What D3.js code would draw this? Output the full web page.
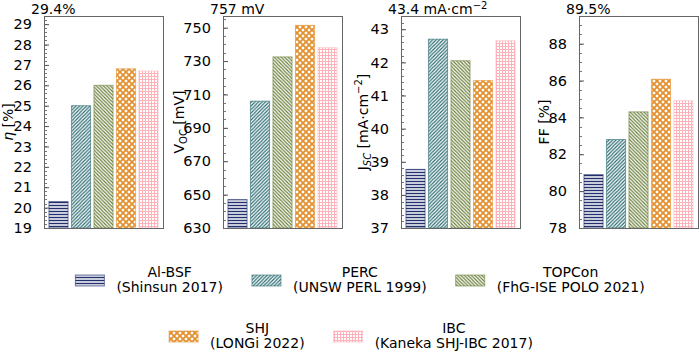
<!DOCTYPE html>
<html>
<head>
<meta charset="utf-8">
<script src="https://cdn.jsdelivr.net/npm/d3@7"></script>
<style>
body { margin: 0; background: #fff; }
text { font-family: "DejaVu Sans", sans-serif; fill: #000; }
</style>
</head>
<body>
<script>
// solar cell record values per technology
var techs = ["Al-BSF", "PERC", "TOPCon", "SHJ", "IBC"];
var sources = ["(Shinsun 2017)", "(UNSW PERL 1999)", "(FhG-ISE POLO 2021)", "(LONGi 2022)", "(Kaneka SHJ-IBC 2017)"];
var eta = [20.3, 25.0, 26.0, 26.81, 26.7];
var voc = [647, 706, 732.5, 751.4, 738];
var jsc = [38.77, 42.7, 42.05, 41.45, 42.65];
var ff = [80.9, 82.8, 84.3, 86.07, 84.9];

var etaTicks = [19, 20, 21, 22, 23, 24, 25, 26, 27, 28, 29];
var vocTicks = [630, 650, 670, 690, 710, 730, 750];
var jscTicks = [37, 38, 39, 40, 41, 42, 43];
var ffTicks = [78, 80, 82, 84, 86, 88];

var colors = ["#22306e", "#2b6c72", "#6b7e3a", "#e3902f", "#ffb2ba"];

var W = 700, H = 354;
var svg = d3.select("body").append("svg").attr("width", W).attr("height", H);
var defs = svg.append("defs");

// hatch patterns, one per technology
function pattern(id, size, color, paths, sw) {
    var p = defs.append("pattern").attr("id", id).attr("patternUnits", "userSpaceOnUse")
        .attr("width", size).attr("height", size);
    p.append("rect").attr("width", size).attr("height", size).attr("fill", "#fff");
    p.append("path").attr("d", paths).attr("stroke", color).attr("stroke-width", sw).attr("fill", "none");
}
pattern("h0", 3, colors[0], "M0,1.5H3", 1.5);
pattern("h1", 3.5, colors[1], "M-1,1L1,-1M0,3.5L3.5,0M2.5,4.5L4.5,2.5", 1.2);
pattern("h2", 3.5, colors[2], "M-1,2.5L1,4.5M0,0L3.5,3.5M2.5,-1L4.5,1", 1.2);
pattern("h3", 6, colors[3], "M0,0L6,6M6,0L0,6", 1.8);
pattern("h4", 3, colors[4], "M0,1.5H3M1.5,0V3", 1);

var yTop = 16, yBot = 228;
var panels = [
    { x0: 44, values: eta, min: 19, max: 29.4, ticks: etaTicks, minor: 0.2, label: "29.4%", ylab: "eta", lx: 8 },
    { x0: 223, values: voc, min: 630, max: 757, ticks: vocTicks, minor: 5, label: "757 mV", ylab: "voc", lx: 179 },
    { x0: 401, values: jsc, min: 37, max: 43.4, ticks: jscTicks, minor: 0.2, label: "43.4 mA·cm", sup: "−2", ylab: "jsc", lx: 363 },
    { x0: 579, values: ff, min: 78, max: 89.5, ticks: ffTicks, minor: 0.5, label: "89.5%", ylab: "ff", lx: 544 }
];
var pw = 119;

panels.forEach(function (p) {
    var g = svg.append("g");
    var x = d3.scaleBand().domain(techs).range([p.x0, p.x0 + pw]).paddingInner(0.15).paddingOuter(0.22);
    var y = d3.scaleLinear().domain([p.min, p.max]).range([yBot, yTop]);

    g.selectAll("rect.bar").data(p.values).enter().append("rect")
        .attr("class", "bar")
        .attr("x", function (d, i) { return x(techs[i]); })
        .attr("width", x.bandwidth())
        .attr("y", function (d) { return y(d); })
        .attr("height", function (d) { return y(p.min) - y(d); })
        .attr("fill", function (d, i) { return "url(#h" + i + ")"; })
        .attr("stroke", function (d, i) { return colors[i]; })
        .attr("stroke-opacity", 0.6)
        .attr("stroke-width", 1);

    // minor ticks
    var minors = d3.range(p.min, p.max + 1e-9, p.minor);
    g.selectAll("line.minor").data(minors).enter().append("line")
        .attr("x1", p.x0).attr("x2", p.x0 + 3)
        .attr("y1", function (d) { return Math.round(y(d)) + 0.5; })
        .attr("y2", function (d) { return Math.round(y(d)) + 0.5; })
        .attr("stroke", "#555").attr("stroke-width", 0.8);

    var axis = d3.axisLeft(y).tickValues(p.ticks).tickSizeInner(-5).tickSizeOuter(0).tickPadding(12)
        .tickFormat(d3.format("d"));
    var ag = g.append("g").attr("transform", "translate(" + p.x0 + ",0)").call(axis);
    ag.select(".domain").remove();
    ag.selectAll("line").attr("stroke", "#555").attr("stroke-width", 1);
    ag.selectAll("text").attr("font-size", 14.5).attr("font-family", "DejaVu Sans").attr("fill", "#000");

    g.append("rect").attr("x", p.x0 + 0.5).attr("y", yTop + 0.5).attr("width", pw).attr("height", yBot - yTop)
        .attr("fill", "none").attr("stroke", "#666").attr("stroke-width", 1);

    var tl = g.append("text").attr("x", p.x0 - 13).attr("y", 14).attr("font-size", 14).text(p.label);
    if (p.sup) tl.append("tspan").attr("dy", -5).attr("font-size", 10).text(p.sup);

    var yl = g.append("text").attr("transform", "translate(" + p.lx + "," + ((yTop + yBot) / 2) + ") rotate(-90)")
        .attr("text-anchor", "middle").attr("font-size", 14).attr("dominant-baseline", "central");
    if (p.ylab === "eta") {
        yl.append("tspan").attr("font-style", "italic").text("η");
        yl.append("tspan").text(" [%]");
    } else if (p.ylab === "voc") {
        yl.append("tspan").text("V");
        yl.append("tspan").attr("font-size", 10).attr("dy", 4).text("OC");
        yl.append("tspan").attr("dy", -4).text(" [mV]");
    } else if (p.ylab === "jsc") {
        yl.append("tspan").text("J");
        yl.append("tspan").attr("font-size", 10).attr("dy", 4).attr("font-style", "italic").text("SC");
        yl.append("tspan").attr("dy", -4).text(" [mA·cm");
        yl.append("tspan").attr("font-size", 10).attr("dy", -5).text("−2");
        yl.append("tspan").attr("dy", 5).text("]");
    } else {
        yl.text("FF [%]");
    }
});

// legend: two centred rows
var rows = [{ idx: [0, 1, 2], cx: 360, base: 276.5 }, { idx: [3, 4], cx: 351, base: 332.5 }];
var sw = 29, sh = 11, gapText = 12, gapEntry = 29, lineH = 15.5;
rows.forEach(function (r) {
    var entries = r.idx.map(function (i) {
        var g = svg.append("g");
        var t1 = g.append("text").attr("font-size", 14).attr("text-anchor", "middle").attr("y", r.base).text(techs[i]);
        var t2 = g.append("text").attr("font-size", 14).attr("text-anchor", "middle").attr("y", r.base + lineH).text(sources[i]);
        var w = Math.max(t1.node().getComputedTextLength(), t2.node().getComputedTextLength());
        return { i: i, g: g, t1: t1, t2: t2, w: w, total: sw + gapText + w };
    });
    var total = d3.sum(entries, function (e) { return e.total; }) + gapEntry * (entries.length - 1);
    var cur = r.cx - total / 2;
    entries.forEach(function (e) {
        e.g.append("rect").attr("x", cur).attr("y", r.base - 1.5).attr("width", sw).attr("height", sh)
            .attr("fill", "url(#h" + e.i + ")").attr("stroke", colors[e.i]).attr("stroke-opacity", 0.6);
        var c = cur + sw + gapText + e.w / 2;
        e.t1.attr("x", c);
        e.t2.attr("x", c);
        cur += e.total + gapEntry;
    });
});
</script>
</body>
</html>
